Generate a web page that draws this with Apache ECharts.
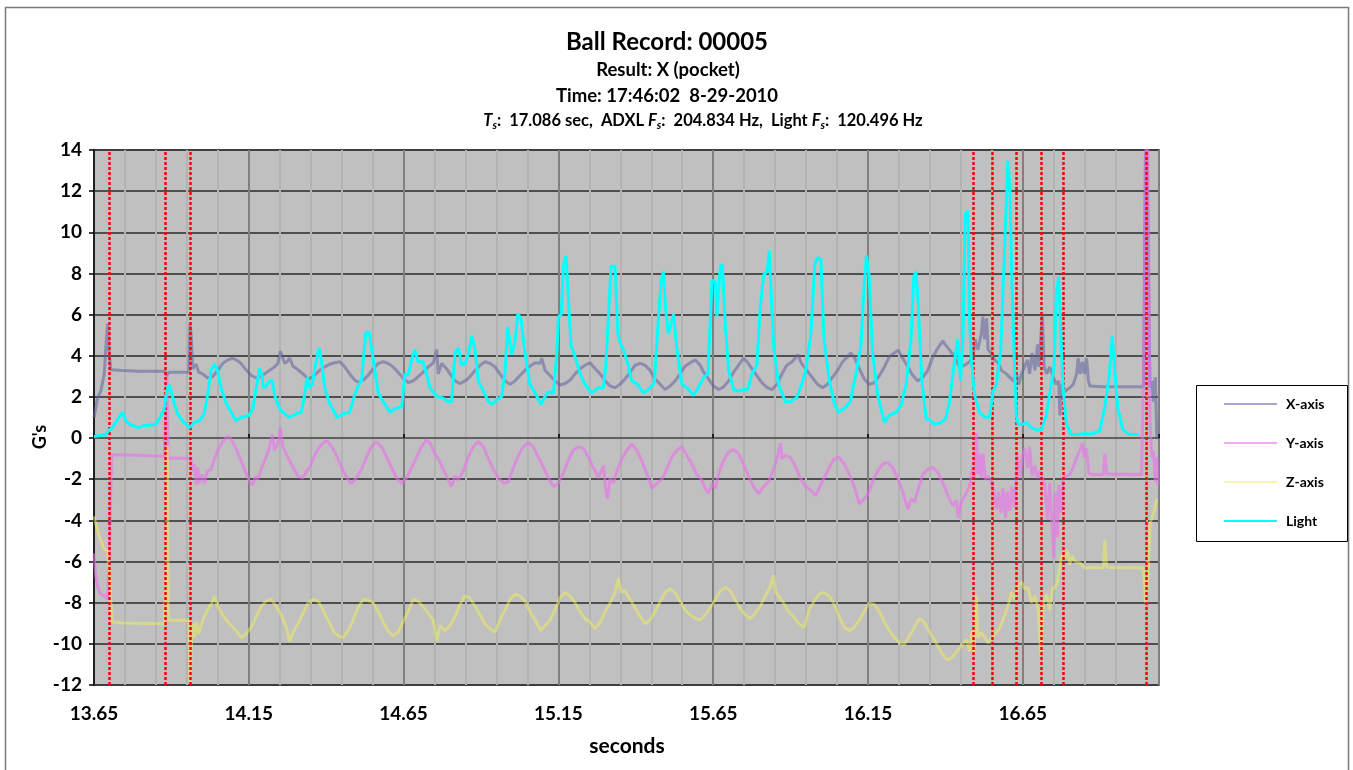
<!DOCTYPE html>
<html>
<head>
<meta charset="utf-8">
<title>Ball Record: 00005</title>
<script src="https://cdn.jsdelivr.net/npm/echarts@6/dist/echarts.min.js"></script>
<style>
  html, body { margin: 0; padding: 0; background: #ffffff; }
  #chart { width: 1353px; height: 770px; }
</style>
</head>
<body>
<div id="chart"></div>
<script>
// Accelerometer axes (ADXL) and light sensor, in G's against seconds.
const xAxisG = [
  [13.650,1.0],[13.661,1.94],[13.672,2.28],[13.683,3.12],[13.690,4.8],[13.694,5.56],[13.699,4.13],[13.704,3.32],
  [13.742,3.29],[13.796,3.25],[13.880,3.25],[13.884,3.04],[13.893,3.2],[13.956,3.2],[13.960,5.56],[13.964,4.97],
  [13.969,3.37],[13.974,3.29],[13.980,3.59],[13.988,3.2],[14.001,3.12],[14.017,2.92],[14.033,2.98],[14.050,3.29],
  [14.066,3.63],[14.082,3.8],[14.098,3.88],[14.114,3.76],[14.125,3.63],[14.141,3.32],[14.158,3.04],[14.174,2.92],
  [14.185,2.98],[14.201,3.12],[14.217,3.29],[14.233,3.46],[14.244,3.63],[14.252,4.22],[14.258,3.96],[14.266,3.63],
  [14.273,3.71],[14.282,3.88],[14.293,3.49],[14.309,3.32],[14.325,3.12],[14.341,2.87],[14.357,2.98],[14.379,3.29],
  [14.395,3.46],[14.411,3.59],[14.427,3.66],[14.444,3.71],[14.460,3.46],[14.476,3.12],[14.492,2.82],[14.506,2.7],
  [14.519,2.82],[14.535,3.04],[14.552,3.37],[14.568,3.63],[14.584,3.71],[14.600,3.63],[14.616,3.46],[14.632,3.2],
  [14.648,2.92],[14.665,2.7],[14.681,2.78],[14.697,2.98],[14.713,3.2],[14.730,3.46],[14.746,3.66],[14.757,4.3],
  [14.762,3.12],[14.773,3.63],[14.789,3.37],[14.800,3.12],[14.816,2.78],[14.832,2.65],[14.849,2.78],[14.864,2.98],
  [14.881,3.29],[14.897,3.54],[14.913,3.71],[14.929,3.63],[14.945,3.46],[14.961,3.12],[14.978,2.78],[14.994,2.61],
  [15.010,2.78],[15.026,3.04],[15.042,3.29],[15.058,3.49],[15.075,3.66],[15.091,3.63],[15.096,3.88],[15.107,3.29],
  [15.123,3.04],[15.139,2.78],[15.155,2.58],[15.172,2.65],[15.188,2.82],[15.204,3.12],[15.220,3.37],[15.236,3.54],
  [15.252,3.66],[15.269,3.37],[15.285,3.12],[15.301,2.78],[15.317,2.53],[15.333,2.45],[15.349,2.61],[15.365,2.87],
  [15.382,3.2],[15.398,3.54],[15.414,3.63],[15.430,3.54],[15.446,3.29],[15.462,2.87],[15.479,2.61],[15.495,2.36],
  [15.511,2.53],[15.527,2.78],[15.543,3.12],[15.559,3.49],[15.576,3.66],[15.592,3.8],[15.608,3.54],[15.619,3.2],
  [15.635,2.87],[15.651,2.53],[15.667,2.36],[15.683,2.48],[15.700,2.78],[15.716,3.2],[15.732,3.54],[15.748,3.88],
  [15.759,3.71],[15.775,3.37],[15.791,3.04],[15.807,2.7],[15.824,2.45],[15.840,2.36],[15.856,2.61],[15.872,3.12],
  [15.888,3.54],[15.905,3.71],[15.924,4.05],[15.935,3.63],[15.949,3.37],[15.965,3.04],[15.987,2.61],[16.003,2.45],
  [16.019,2.61],[16.035,2.95],[16.052,3.29],[16.068,3.71],[16.084,3.96],[16.095,4.13],[16.106,3.93],[16.122,3.37],
  [16.138,2.87],[16.154,2.61],[16.171,2.7],[16.187,3.04],[16.203,3.46],[16.219,3.96],[16.235,4.13],[16.248,4.27],
  [16.262,3.88],[16.279,3.46],[16.295,3.04],[16.311,2.78],[16.327,2.95],[16.343,3.29],[16.360,3.96],[16.376,4.38],
  [16.392,4.72],[16.399,4.55],[16.413,4.3],[16.430,3.93],[16.446,3.46],[16.462,3.54],[16.478,3.71],[16.489,3.96],
  [16.496,4.8],[16.505,4.3],[16.516,5.06],[16.521,5.9],[16.527,4.8],[16.533,5.82],[16.538,4.3],[16.548,4.13],
  [16.559,3.8],[16.572,3.63],[16.581,3.29],[16.597,3.12],[16.608,2.95],[16.619,2.78],[16.629,3.2],[16.637,2.61],
  [16.646,3.12],[16.656,3.46],[16.665,3.8],[16.672,3.12],[16.680,4.13],[16.689,3.29],[16.698,4.55],[16.702,3.46],
  [16.708,4.8],[16.713,5.99],[16.719,3.46],[16.727,3.12],[16.737,3.46],[16.748,2.95],[16.759,2.61],[16.766,2.78],
  [16.770,1.1],[16.775,2.61],[16.786,2.28],[16.802,2.45],[16.813,2.61],[16.824,3.12],[16.829,3.88],[16.835,3.12],
  [16.842,3.71],[16.849,3.12],[16.856,3.88],[16.862,2.78],[16.867,2.53],[16.905,2.5],[17.013,2.5],[17.040,2.5],
  [17.046,13.75],[17.051,14],[17.056,8.35],[17.061,2.45],[17.067,2.78],[17.072,1.77],[17.078,2.95],[17.083,0]
];

const yAxisG = [
  [13.650,-5.6],[13.655,-6.6],[13.661,-7.2],[13.672,-7.6],[13.683,-7.67],[13.694,-7.84],[13.699,-5.99],[13.704,-2.61],
  [13.708,-0.84],[13.742,-0.81],[13.877,-0.88],[13.883,-0.9],[13.886,3.0],[13.889,-0.98],[13.956,-0.98],[13.963,-1.01],
  [13.969,-1.6],[13.974,-1.26],[13.980,-2.28],[13.985,-1.43],[13.990,-2.19],[13.999,-1.77],[14.006,-2.19],[14.017,-1.6],
  [14.028,-1.52],[14.039,-1.01],[14.055,-0.42],[14.071,-0.08],[14.082,0.08],[14.093,-0.05],[14.109,-0.51],[14.125,-1.1],
  [14.141,-1.69],[14.152,-2.11],[14.163,-2.28],[14.171,-1.85],[14.179,-2.02],[14.190,-1.52],[14.206,-0.93],[14.217,-0.42],
  [14.226,0.17],[14.233,-0.59],[14.244,-0.25],[14.252,0.51],[14.260,-0.42],[14.276,-0.93],[14.293,-1.43],[14.309,-1.85],
  [14.325,-1.94],[14.336,-1.6],[14.346,-1.43],[14.363,-0.84],[14.379,-0.42],[14.395,-0.17],[14.406,-0.17],[14.422,-0.51],
  [14.438,-1.01],[14.455,-1.6],[14.471,-2.02],[14.481,-2.19],[14.498,-1.94],[14.514,-1.52],[14.530,-0.93],[14.546,-0.42],
  [14.562,-0.17],[14.579,-0.42],[14.595,-0.93],[14.611,-1.43],[14.627,-1.94],[14.644,-2.19],[14.660,-1.94],[14.676,-1.43],
  [14.692,-0.93],[14.708,-0.42],[14.724,-0.08],[14.735,-0.25],[14.751,-0.76],[14.762,-1.01],[14.778,-1.52],[14.789,-1.85],
  [14.805,-2.36],[14.816,-1.85],[14.827,-2.02],[14.843,-1.6],[14.859,-0.93],[14.875,-0.42],[14.891,-0.17],[14.908,-0.42],
  [14.924,-1.01],[14.940,-1.52],[14.956,-1.94],[14.973,-2.19],[14.989,-2.11],[15.005,-1.43],[15.021,-0.84],[15.037,-0.42],
  [15.053,-0.22],[15.069,-0.42],[15.085,-0.93],[15.102,-1.43],[15.118,-1.94],[15.134,-2.36],[15.150,-2.19],[15.166,-1.69],
  [15.182,-1.1],[15.198,-0.59],[15.215,-0.42],[15.231,-0.51],[15.247,-0.93],[15.263,-1.43],[15.279,-1.94],[15.296,-1.35],
  [15.303,-2.53],[15.309,-2.95],[15.317,-1.94],[15.328,-2.19],[15.339,-1.6],[15.355,-1.01],[15.371,-0.59],[15.387,-0.29],
  [15.403,-0.59],[15.419,-1.1],[15.435,-1.69],[15.452,-2.45],[15.468,-2.19],[15.484,-2.02],[15.500,-1.52],[15.516,-0.93],
  [15.533,-0.59],[15.549,-0.42],[15.565,-0.84],[15.581,-1.26],[15.597,-1.77],[15.613,-2.02],[15.624,-2.45],[15.635,-2.7],
  [15.646,-2.19],[15.657,-2.45],[15.667,-1.77],[15.683,-1.1],[15.700,-0.67],[15.716,-0.56],[15.732,-0.76],[15.748,-1.26],
  [15.764,-1.85],[15.780,-2.36],[15.797,-2.7],[15.813,-2.36],[15.829,-2.11],[15.845,-1.52],[15.856,-1.01],[15.867,-0.25],
  [15.872,-1.01],[15.883,-0.84],[15.899,-0.93],[15.915,-1.35],[15.931,-1.94],[15.949,-2.36],[15.965,-2.53],[15.981,-2.78],
  [15.992,-2.45],[16.008,-1.94],[16.025,-1.43],[16.041,-1.01],[16.057,-0.93],[16.073,-1.26],[16.090,-1.77],[16.106,-2.36],
  [16.122,-3.2],[16.138,-2.95],[16.154,-2.61],[16.165,-2.11],[16.181,-1.6],[16.198,-1.26],[16.214,-1.18],[16.230,-1.43],
  [16.246,-1.94],[16.262,-2.61],[16.279,-3.46],[16.289,-2.95],[16.300,-3.12],[16.313,-2.45],[16.327,-1.77],[16.343,-1.52],
  [16.360,-1.43],[16.376,-1.69],[16.392,-2.19],[16.408,-2.78],[16.424,-3.29],[16.435,-3.04],[16.442,-3.88],[16.451,-3.12],
  [16.464,-2.78],[16.478,-2.36],[16.489,-1.43],[16.494,-1.94],[16.500,0.25],[16.505,-1.77],[16.511,-0.76],[16.516,-1.94],
  [16.522,-0.76],[16.529,-2.02],[16.538,-1.85],[16.548,-2.11],[16.557,-2.61],[16.565,-3.46],[16.572,-2.61],[16.579,-3.63],
  [16.586,-2.45],[16.594,-3.88],[16.600,-2.61],[16.608,-3.54],[16.615,-2.36],[16.624,-3.37],[16.632,-0.76],[16.640,-1.94],
  [16.648,-0.93],[16.656,-0.51],[16.665,-1.43],[16.672,-0.42],[16.680,-1.85],[16.689,-1.35],[16.698,-1.94],[16.705,-1.6],
  [16.713,-1.94],[16.721,-2.28],[16.730,-3.96],[16.737,-2.19],[16.745,-4.3],[16.750,-5.82],[16.756,-2.61],[16.762,-4.8],
  [16.766,-2.28],[16.773,-3.63],[16.780,-1.94],[16.791,-1.85],[16.802,-1.77],[16.813,-1.43],[16.824,-0.93],[16.835,-0.59],
  [16.842,-0.25],[16.849,-0.93],[16.856,-0.51],[16.863,-1.69],[16.872,-1.77],[16.910,-1.77],[16.915,-0.76],[16.921,-1.74],
  [17.034,-1.77],[17.043,5.82],[17.047,14],[17.054,14],[17.061,0.76],[17.067,-0.93],[17.072,-0.59],[17.078,-2.11],
  [17.083,-0.93],[17.086,-2.28]
];

const zAxisG = [
  [13.650,-3.8],[13.661,-4.47],[13.672,-4.97],[13.683,-5.4],[13.694,-5.48],[13.701,-6.83],[13.708,-8.94],[13.742,-8.99],
  [13.877,-9.02],[13.884,-5.99],[13.887,-0.4],[13.890,-8.85],[13.956,-8.85],[13.960,-11.89],[13.964,-10.2],[13.969,-9.02],
  [13.974,-9.7],[13.980,-8.94],[13.988,-9.53],[14.001,-8.85],[14.017,-8.35],[14.031,-8.01],[14.039,-7.67],[14.049,-8.18],
  [14.066,-8.6],[14.087,-9.02],[14.109,-9.36],[14.125,-9.7],[14.141,-9.53],[14.158,-9.19],[14.174,-8.68],[14.190,-8.18],
  [14.206,-7.93],[14.222,-7.84],[14.239,-8.18],[14.255,-8.6],[14.271,-9.19],[14.282,-9.87],[14.293,-9.44],[14.309,-9.02],
  [14.325,-8.52],[14.341,-8.01],[14.357,-7.84],[14.374,-7.93],[14.390,-8.35],[14.406,-8.85],[14.422,-9.36],[14.438,-9.61],
  [14.455,-9.7],[14.471,-9.36],[14.487,-8.85],[14.503,-8.26],[14.519,-7.84],[14.535,-7.88],[14.552,-8.01],[14.568,-8.43],
  [14.584,-8.94],[14.600,-9.36],[14.616,-9.61],[14.632,-9.44],[14.648,-8.94],[14.665,-8.43],[14.681,-7.84],[14.697,-7.93],
  [14.713,-8.18],[14.730,-8.52],[14.746,-8.85],[14.757,-9.87],[14.768,-9.11],[14.784,-9.36],[14.800,-9.11],[14.816,-8.68],
  [14.832,-8.09],[14.849,-7.67],[14.864,-7.76],[14.881,-8.18],[14.897,-8.6],[14.913,-9.02],[14.929,-9.27],[14.945,-9.44],
  [14.961,-8.85],[14.978,-8.35],[14.994,-7.84],[15.010,-7.59],[15.026,-7.67],[15.042,-7.93],[15.058,-8.43],[15.075,-8.85],
  [15.094,-9.36],[15.107,-9.11],[15.123,-8.85],[15.139,-8.35],[15.155,-7.76],[15.172,-7.5],[15.188,-7.67],[15.204,-8.01],
  [15.220,-8.43],[15.236,-8.77],[15.252,-8.94],[15.269,-9.27],[15.285,-8.94],[15.301,-8.43],[15.317,-8.01],[15.333,-7.5],
  [15.344,-6.8],[15.353,-7.5],[15.365,-7.42],[15.382,-7.84],[15.398,-8.26],[15.414,-8.68],[15.430,-9.02],[15.446,-8.85],
  [15.462,-8.43],[15.479,-7.93],[15.495,-7.5],[15.511,-7.34],[15.527,-7.5],[15.543,-7.93],[15.559,-8.35],[15.576,-8.6],
  [15.592,-8.77],[15.608,-8.85],[15.624,-8.6],[15.640,-8.26],[15.657,-7.84],[15.673,-7.42],[15.689,-7.25],[15.705,-7.42],
  [15.721,-7.84],[15.737,-8.26],[15.754,-8.6],[15.770,-8.77],[15.786,-8.52],[15.802,-8.18],[15.818,-7.67],[15.834,-7.25],
  [15.845,-6.66],[15.852,-7.5],[15.861,-7.67],[15.877,-8.01],[15.893,-8.43],[15.910,-8.68],[15.926,-9.02],[15.944,-9.19],
  [15.960,-8.35],[15.976,-7.93],[15.992,-7.59],[16.008,-7.5],[16.025,-7.67],[16.041,-8.09],[16.057,-8.68],[16.073,-9.19],
  [16.090,-9.36],[16.106,-9.19],[16.122,-8.85],[16.138,-8.43],[16.154,-8.01],[16.171,-8.09],[16.187,-8.43],[16.203,-8.94],
  [16.219,-9.36],[16.235,-9.7],[16.252,-9.95],[16.268,-10.03],[16.284,-9.61],[16.300,-9.19],[16.316,-8.77],[16.327,-8.85],
  [16.343,-9.27],[16.360,-9.7],[16.376,-10.12],[16.392,-10.54],[16.408,-10.79],[16.424,-10.62],[16.441,-10.29],[16.457,-10.03],
  [16.468,-9.78],[16.478,-10.37],[16.486,-9.36],[16.492,-10.54],[16.500,-7.67],[16.505,-9.7],[16.516,-9.44],[16.527,-9.7],
  [16.538,-9.95],[16.548,-9.78],[16.559,-9.53],[16.570,-9.36],[16.581,-9.02],[16.594,-8.52],[16.605,-8.01],[16.613,-7.5],
  [16.624,-7.84],[16.635,-7.17],[16.646,-7.0],[16.656,-7.34],[16.667,-7.25],[16.678,-8.01],[16.689,-7.67],[16.700,-8.35],
  [16.708,-10.54],[16.716,-8.01],[16.727,-7.59],[16.737,-8.35],[16.745,-7.34],[16.754,-7.25],[16.762,-7.0],[16.770,-6.16],
  [16.777,-5.65],[16.786,-5.82],[16.795,-5.48],[16.802,-6.16],[16.810,-5.73],[16.818,-5.99],[16.835,-6.07],[16.851,-6.32],
  [16.872,-6.29],[16.910,-6.29],[16.915,-4.97],[16.921,-6.29],[17.040,-6.32],[17.047,-8.01],[17.054,-6.83],[17.061,-4.13],
  [17.072,-3.71],[17.083,-2.95]
];

const lightG = [
  [13.650,0.08],[13.688,0.17],[13.699,0.39],[13.709,0.5],[13.720,0.76],[13.731,1.0],[13.742,1.26],[13.753,0.84],
  [13.764,0.67],[13.785,0.56],[13.796,0.5],[13.807,0.59],[13.850,0.67],[13.866,1.1],[13.877,1.43],[13.882,2.0],
  [13.891,2.6],[13.898,2.36],[13.909,1.69],[13.920,1.18],[13.936,0.84],[13.958,0.5],[13.974,0.76],[13.990,0.84],
  [14.006,1.18],[14.017,2.1],[14.028,3.29],[14.039,3.59],[14.049,3.29],[14.060,2.45],[14.077,1.69],[14.093,1.26],
  [14.109,0.84],[14.125,1.0],[14.150,1.1],[14.163,1.43],[14.174,2.45],[14.185,3.37],[14.193,3.04],[14.197,2.45],
  [14.206,2.53],[14.217,2.78],[14.226,2.78],[14.233,2.1],[14.249,1.43],[14.266,1.18],[14.282,1.0],[14.303,1.18],
  [14.320,1.26],[14.330,2.1],[14.338,2.95],[14.346,2.45],[14.355,2.6],[14.368,3.8],[14.377,4.38],[14.385,3.71],
  [14.395,2.45],[14.411,1.69],[14.435,1.0],[14.455,1.18],[14.476,1.26],[14.492,2.1],[14.503,2.53],[14.514,2.78],
  [14.528,5.14],[14.539,5.14],[14.552,3.8],[14.568,2.19],[14.584,1.77],[14.606,1.26],[14.622,1.43],[14.644,1.52],
  [14.654,3.12],[14.665,3.04],[14.676,3.8],[14.686,4.3],[14.697,3.71],[14.713,3.71],[14.724,3.12],[14.735,2.45],
  [14.757,2.02],[14.778,1.94],[14.794,1.77],[14.805,1.77],[14.816,4.13],[14.827,4.38],[14.838,3.54],[14.849,3.63],
  [14.860,4.13],[14.871,4.97],[14.881,4.3],[14.891,2.78],[14.908,2.28],[14.924,1.77],[14.935,1.64],[14.951,1.85],
  [14.967,2.02],[14.978,3.29],[14.986,5.4],[14.999,4.05],[15.010,4.72],[15.019,6.04],[15.029,5.82],[15.042,4.13],
  [15.058,2.61],[15.075,2.19],[15.094,1.64],[15.107,2.02],[15.118,2.24],[15.134,2.19],[15.145,4.13],[15.150,5.9],
  [15.159,5.99],[15.166,8.35],[15.175,8.85],[15.182,6.83],[15.191,4.47],[15.204,3.96],[15.220,3.12],[15.236,2.61],
  [15.258,2.19],[15.279,2.45],[15.295,2.45],[15.303,3.46],[15.312,5.99],[15.320,8.35],[15.333,8.35],[15.342,5.06],
  [15.349,4.64],[15.363,4.17],[15.374,3.63],[15.387,2.78],[15.406,2.61],[15.425,2.19],[15.441,2.36],[15.460,2.7],
  [15.473,5.82],[15.482,7.67],[15.489,8.09],[15.497,6.16],[15.505,5.06],[15.522,6.02],[15.533,4.3],[15.549,2.61],
  [15.565,2.45],[15.586,2.07],[15.602,2.45],[15.619,2.95],[15.633,3.12],[15.640,5.48],[15.646,7.67],[15.657,7.59],
  [15.662,5.9],[15.673,8.35],[15.680,8.43],[15.689,5.48],[15.700,3.29],[15.716,2.36],[15.732,2.28],[15.748,2.36],
  [15.762,2.36],[15.775,3.12],[15.791,3.54],[15.802,6.32],[15.813,7.93],[15.824,8.09],[15.831,9.11],[15.837,9.19],
  [15.845,4.47],[15.861,2.61],[15.883,1.77],[15.899,1.77],[15.920,1.97],[15.936,2.61],[15.949,3.29],[15.965,4.97],
  [15.978,8.43],[15.987,8.77],[15.998,8.68],[16.008,4.8],[16.025,2.78],[16.041,1.69],[16.054,1.26],[16.073,1.43],
  [16.093,1.77],[16.111,3.12],[16.127,4.47],[16.138,7.5],[16.145,8.89],[16.154,7.84],[16.165,4.13],[16.181,2.11],
  [16.203,0.76],[16.219,1.1],[16.241,1.26],[16.257,1.6],[16.273,2.61],[16.289,4.8],[16.298,7.84],[16.305,8.09],
  [16.313,6.32],[16.324,2.78],[16.338,0.93],[16.349,0.89],[16.363,0.67],[16.387,0.76],[16.400,0.93],[16.413,1.69],
  [16.427,3.46],[16.440,4.8],[16.449,2.78],[16.457,4.97],[16.464,10.88],[16.473,11.05],[16.478,5.82],[16.484,3.8],
  [16.494,2.11],[16.510,1.26],[16.527,1.01],[16.543,1.01],[16.554,2.28],[16.565,2.61],[16.579,4.3],[16.590,8.68],
  [16.597,11.55],[16.602,13.49],[16.608,12.23],[16.615,7.5],[16.622,4.13],[16.629,1.1],[16.635,0.67],[16.651,0.67],
  [16.662,0.76],[16.678,0.51],[16.694,0.39],[16.710,0.42],[16.726,1.1],[16.740,2.45],[16.751,3.46],[16.759,7.17],
  [16.766,7.84],[16.772,5.48],[16.780,2.45],[16.791,0.67],[16.807,0.17],[16.828,0.17],[16.850,0.22],[16.871,0.2],
  [16.898,0.34],[16.914,1.43],[16.930,3.12],[16.939,4.97],[16.946,3.46],[16.957,1.43],[16.973,0.42],[16.994,0.17],
  [17.026,0.17]
];

// Event markers (red dotted verticals), seconds
const eventTimes = [13.701, 13.878, 13.958, 16.492, 16.550, 16.631, 16.706, 16.782, 17.052];

// Axis settings
const tMin = 13.65, tMax = 17.09;
const gMin = -12, gMax = 14, gStep = 2;

const titleLines = [
  'Ball Record: 00005',
  'Result: X (pocket)',
  'Time: 17:46:02  8-29-2010'
];
const seriesNames = ['X-axis', 'Y-axis', 'Z-axis', 'Light'];

const FONT = 'Lato, "Liberation Sans", sans-serif';

const chart = echarts.init(document.getElementById('chart'), null, { renderer: 'canvas' });

function isMajor(v) {
  const k = (v - tMin) / 0.5;
  return Math.abs(k - Math.round(k)) < 1e-6;
}

const option = {
  animation: false,
  backgroundColor: '#ffffff',
  grid: {
    left: 94, right: 194, top: 150, bottom: 85,
    show: true, backgroundColor: '#C0C0C0', borderColor: '#808080', borderWidth: 2
  },
  xAxis: [
    {
      type: 'value', min: tMin, max: tMax, interval: 0.1,
      axisLine: { show: false, onZero: false },
      axisTick: { show: false },
      axisLabel: {
        margin: 19, color: '#000', fontFamily: FONT, fontWeight: 'bold', fontSize: 19,
        formatter: v => isMajor(v) ? v.toFixed(2) : '',
        showMaxLabel: false
      },
      splitLine: { show: true, lineStyle: { color: '#B3B3B3', width: 2 } }
    },
    {
      type: 'value', min: tMin, max: tMax, interval: 0.5,
      axisLine: { show: true, onZero: true, lineStyle: { color: '#606060', width: 2 } },
      axisTick: { show: true, length: 4, lineStyle: { color: '#000', width: 1.5 } },
      axisLabel: { show: false },
      splitLine: { show: true, lineStyle: { color: '#808080', width: 2 } }
    }
  ],
  yAxis: {
    type: 'value', min: gMin, max: gMax, interval: gStep,
    axisLine: { show: true, onZero: false, lineStyle: { color: '#000', width: 1.5 } },
    axisTick: { show: true, length: 5, lineStyle: { color: '#000', width: 1.5 } },
    axisLabel: { margin: 12, color: '#000', fontFamily: FONT, fontWeight: 'bold', fontSize: 19 },
    splitLine: { show: true, lineStyle: { color: '#2a2a2a', width: 1.5 } }
  },
  legend: {
    data: seriesNames,
    orient: 'vertical',
    left: 1223, top: 397,
    padding: 0,
    itemWidth: 53, itemHeight: 14, itemGap: 25,
    itemStyle: { opacity: 0 },
    textStyle: { color: '#000', fontFamily: FONT, fontWeight: 'bold', fontSize: 14, padding: [0, 0, 0, 4] },
    selectedMode: false
  },
  graphic: [
    { type: 'rect', left: 3, top: 5, silent: true, z: -10,
      shape: { width: 1343, height: 800 },
      style: { fill: 'none', stroke: '#7a7a7a', lineWidth: 1.5 } },
    { type: 'rect', left: 1196, top: 385, silent: true,
      shape: { width: 151, height: 156 },
      style: { fill: '#fff', stroke: '#000', lineWidth: 1 }, z: -1 },
    { type: 'text', x: 667, y: 42, silent: true,
      style: { text: titleLines[0], fill: '#000', font: 'bold 24px ' + FONT, textAlign: 'center', textVerticalAlign: 'middle' } },
    { type: 'text', x: 668, y: 70, silent: true,
      style: { text: titleLines[1], fill: '#000', font: 'bold 18.5px ' + FONT, textAlign: 'center', textVerticalAlign: 'middle' } },
    { type: 'text', x: 667, y: 96, silent: true,
      style: { text: titleLines[2], fill: '#000', font: 'bold 18.5px ' + FONT, textAlign: 'center', textVerticalAlign: 'middle' } },
    { type: 'text', x: 703, y: 121, silent: true,
      style: {
        text: '{i|T}{s|s}{b|:  17.086 sec,  ADXL }{i|F}{s|s}{b|:  204.834 Hz,  Light }{i|F}{s|s}{b|:  120.496 Hz}',
        textAlign: 'center', textVerticalAlign: 'middle',
        rich: {
          b: { fontFamily: FONT, fontWeight: 'bold', fontSize: 16.5, lineHeight: 20, fill: '#000' },
          i: { fontFamily: FONT, fontWeight: 'bold', fontStyle: 'italic', fontSize: 16.5, lineHeight: 20, fill: '#000' },
          s: { fontFamily: FONT, fontWeight: 'bold', fontStyle: 'italic', fontSize: 11, lineHeight: 12, verticalAlign: 'bottom', fill: '#000' }
        }
      } },
    { type: 'text', x: 40, y: 437, rotation: Math.PI / 2, silent: true,
      style: { text: "G's", fill: '#000', font: 'bold 18px ' + FONT, textAlign: 'center', textVerticalAlign: 'middle' } },
    { type: 'text', x: 627, y: 746, silent: true,
      style: { text: 'seconds', fill: '#000', font: 'bold 21px ' + FONT, textAlign: 'center', textVerticalAlign: 'middle' } }
  ],
  series: [
    { name: 'X-axis', type: 'line', data: xAxisG, symbol: 'none', xAxisIndex: 0,
      color: 'rgba(96,96,160,0.55)', lineStyle: { width: 3, color: 'rgba(96,96,160,0.55)' }, z: 2 },
    { name: 'Y-axis', type: 'line', data: yAxisG, symbol: 'none', xAxisIndex: 0,
      color: 'rgba(235,110,235,0.6)', lineStyle: { width: 3, color: 'rgba(235,110,235,0.6)' }, z: 3 },
    { name: 'Z-axis', type: 'line', data: zAxisG, symbol: 'none', xAxisIndex: 0,
      color: 'rgba(240,240,90,0.5)', lineStyle: { width: 3, color: 'rgba(240,240,90,0.5)' }, z: 4 },
    { name: 'Light', type: 'line', data: lightG, symbol: 'none', xAxisIndex: 0,
      color: '#00FFFF', lineStyle: { width: 3, color: '#00FFFF' }, z: 5 },
    { name: 'events', type: 'line', data: [], xAxisIndex: 0, z: 10,
      markLine: {
        silent: true, symbol: 'none', animation: false,
        label: { show: false },
        lineStyle: { color: '#FF0000', width: 2.5, type: [3, 2] },
        data: eventTimes.map(t => ({ xAxis: t }))
      } }
  ]
};

chart.setOption(option);
</script>
</body>
</html>
